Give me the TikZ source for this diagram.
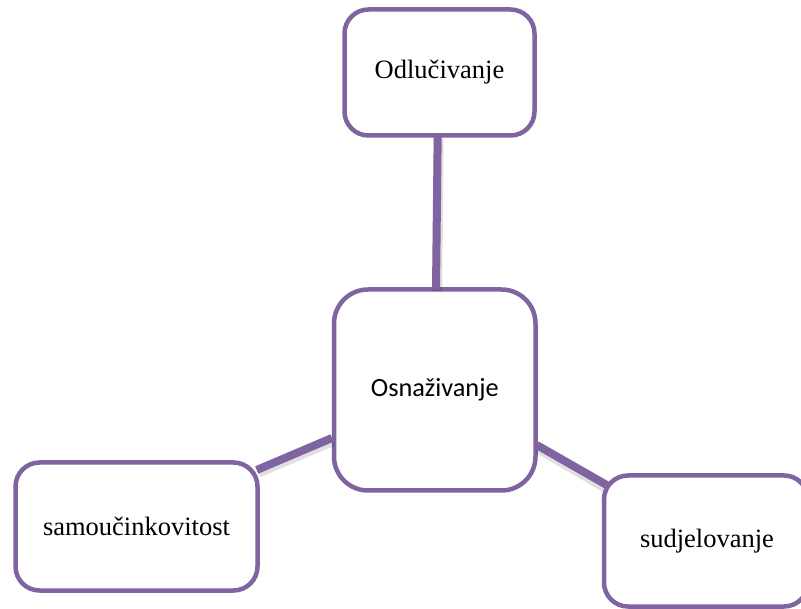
\documentclass[tikz,border=0pt]{standalone}
\usepackage{fontspec}
\setmainfont{Liberation Serif}
\newfontfamily\calibrifont{Carlito}
\definecolor{accentpurple}{HTML}{8064A2}
\begin{document}
\begin{tikzpicture}[x=1pt,y=-1pt,
  box/.style={draw=accentpurple, line width=4.5pt, fill=white, rounded corners=24pt,
    inner sep=0pt, outer sep=0pt, font=\fontsize{26.5}{30}\selectfont},
  link/.style={draw=accentpurple, line width=8pt},
  linkshadow/.style={draw=black, opacity=0.12, line width=10pt}]
\useasboundingbox (0,0) rectangle (801,609);
\clip (0,0) rectangle (801,609);
\node[box, minimum width=190pt, minimum height=126pt] (top) at (439.5,72.5) {Odlučivanje};
\node[box, rounded corners=34pt, minimum width=201.5pt, minimum height=201pt,
  font=\calibrifont\fontsize{26.3}{30}\selectfont] (mid) at (434.75,390) {Osnaživanje};
\node[box, minimum width=242pt, minimum height=128pt] (left) at (136.5,526.5) {samoučinkovitost};
\node[box, minimum width=204pt, minimum height=131pt] (right) at (706,541) {\hspace*{2pt}sudjelovanje};
% shadows
\draw[linkshadow] ([xshift=-0.8pt,yshift=-3pt]top.south) -- ([xshift=2.5pt,yshift=-2pt]mid.north);
\draw[linkshadow] ([xshift=1pt,yshift=-10pt]left.north east) -- ([xshift=-1pt,yshift=-51pt]mid.west);
\draw[linkshadow] ([xshift=2pt,yshift=-58pt]mid.east) -- ([xshift=1pt,yshift=-12pt]right.north west);
% connectors
\draw[link] ([xshift=-1.8pt]top.south) -- ([xshift=1.25pt]mid.north);
\draw[link] ([xshift=-0.8pt,yshift=-7.5pt]left.north east) -- ([xshift=-2pt,yshift=-48pt]mid.west);
\draw[link] ([xshift=1.2pt,yshift=-55pt]mid.east) -- ([xshift=2.7pt,yshift=-9.5pt]right.north west);
\end{tikzpicture}
\end{document}
